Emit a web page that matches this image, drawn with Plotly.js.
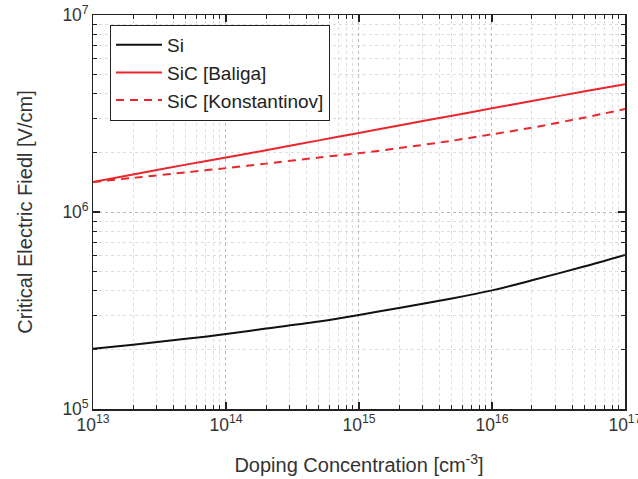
<!DOCTYPE html>
<html><head><meta charset="utf-8">
<script src="https://cdn.plot.ly/plotly-3.0.1.min.js"></script>
<style>html,body{margin:0;padding:0;background:#fff}#chart{width:638px;height:479px}</style>
</head><body><div id="chart"></div>
<script>
const doping = [1e13, 2e13, 5e13, 1e14, 2e14, 5e14, 1e15, 2e15, 5e15, 1e16, 2e16, 5e16, 1e17];
const fieldSi = [2.02e5, 2.12e5, 2.27e5, 2.4e5, 2.56e5, 2.78e5, 3.0e5, 3.26e5, 3.64e5, 4.0e5, 4.5e5, 5.3e5, 6.05e5];
const fieldSiCBaliga = [1.42e6, 1.55e6, 1.74e6, 1.89e6, 2.06e6, 2.31e6, 2.52e6, 2.75e6, 3.08e6, 3.36e6, 3.66e6, 4.1e6, 4.45e6];
const fieldSiCKonst = [1.42e6, 1.49e6, 1.59e6, 1.67e6, 1.76e6, 1.89e6, 1.99e6, 2.11e6, 2.3e6, 2.48e6, 2.68e6, 3.02e6, 3.33e6];
const seriesNames = ['Si', 'SiC [Baliga]', 'SiC [Konstantinov]'];

const red = '#e8262b';
const traces = [
  {x: doping, y: fieldSi, name: seriesNames[0], mode: 'lines', line: {color: '#111', width: 2, shape: 'spline', smoothing: 0.8}},
  {x: doping, y: fieldSiCBaliga, name: seriesNames[1], mode: 'lines', line: {color: red, width: 2, shape: 'spline', smoothing: 0.8}},
  {x: doping, y: fieldSiCKonst, name: seriesNames[2], mode: 'lines', line: {color: red, width: 2, dash: '8px,6px', shape: 'spline', smoothing: 0.8}}
];

const font = 'Liberation Sans, Arial';
const axisCommon = {
  type: 'log', exponentformat: 'power', dtick: 1,
  showline: true, linecolor: '#222', linewidth: 1.5, mirror: 'allticks',
  ticks: 'inside', ticklen: 7, tickwidth: 1.5, tickcolor: '#222',
  showgrid: true, gridcolor: '#bbb', griddash: 'dot', gridwidth: 1,
  minor: {dtick: 'D1', ticks: 'inside', ticklen: 4, tickwidth: 1, tickcolor: '#222', showgrid: true, gridcolor: '#ddd', griddash: 'dot', gridwidth: 1},
  zeroline: false, ticklabeloverflow: 'allow',
  tickfont: {family: font, size: 14, color: '#333'}
};

const layout = {
  width: 638, height: 479,
  margin: {l: 93, r: 13, t: 15, b: 70},
  paper_bgcolor: '#fff', plot_bgcolor: '#fff',
  showlegend: true,
  legend: {x: 0.032, y: 0.975, xanchor: 'left', yanchor: 'top', bgcolor: '#fff', bordercolor: '#222', borderwidth: 1,
    itemwidth: 46, font: {family: font, size: 19, color: '#222'}, tracegroupgap: 0},
  xaxis: Object.assign({}, axisCommon, {range: [13, 17.0004],
    title: {text: 'Doping Concentration [cm<sup>-3</sup>]', font: {family: font, size: 20, color: '#333'}, standoff: 24}}),
  yaxis: Object.assign({}, axisCommon, {range: [5, 7],
    title: {text: 'Critical Electric Fiedl [V/cm]', font: {family: font, size: 20, color: '#333'}, standoff: 24}})
};

Plotly.newPlot('chart', traces, layout, {displayModeBar: false, staticPlot: true});
</script>
</body></html>
